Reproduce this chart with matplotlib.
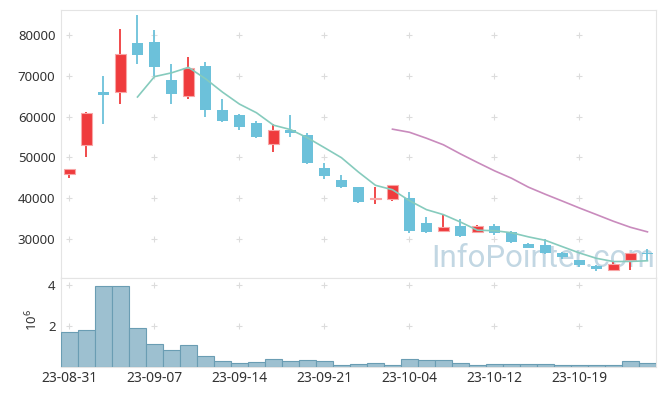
import numpy as np
import pandas as pd
import matplotlib
matplotlib.use('Agg')
import matplotlib.pyplot as plt

plt.rcParams['font.family'] = ['Noto Sans', 'DejaVu Sans']
plt.rcParams['mathtext.fontset'] = 'custom'
plt.rcParams['mathtext.rm'] = 'Noto Sans'

# ============================================================
# 데이터
# ============================================================
dates = ['23-08-31', '23-09-01', '23-09-04', '23-09-05', '23-09-06', '23-09-07',
         '23-09-08', '23-09-11', '23-09-12', '23-09-13', '23-09-14', '23-09-15',
         '23-09-18', '23-09-19', '23-09-20', '23-09-21', '23-09-22', '23-09-25',
         '23-09-26', '23-09-27', '23-10-04', '23-10-05', '23-10-06', '23-10-10',
         '23-10-11', '23-10-12', '23-10-13', '23-10-16', '23-10-17', '23-10-18',
         '23-10-19', '23-10-20', '23-10-23', '23-10-24', '23-10-25']
opens = [45900, 53100, 66000, 66000, 78000, 78300, 69000, 65100, 72400, 61600,
         60400, 58400, 53400, 56700, 55500, 47400, 44500, 42700, 39750, 39800,
         40050, 33900, 32050, 33250, 31800, 33200, 31650, 28850, 28500, 26650,
         24850, 23300, 22400, 24950, 26500]
highs = [47200, 61200, 69900, 81400, 84900, 81200, 72800, 74700, 73300, 64200,
         60600, 58800, 58100, 60400, 55900, 48600, 45600, 42800, 42800, 43300,
         41450, 35300, 35900, 34900, 33500, 33750, 31900, 28900, 29900, 26900,
         24900, 23700, 24500, 26650, 27500]
lows = [44900, 50000, 58100, 63000, 72800, 70000, 63200, 64200, 60000, 58600,
        56700, 54800, 51400, 54900, 48300, 44600, 42600, 38800, 38600, 39250,
        31500, 31400, 32000, 30500, 31550, 30900, 28950, 27800, 26250, 25000,
        23200, 22150, 22400, 22500, 24600]
closes = [47200, 61000, 65200, 75400, 75200, 72200, 65600, 71900, 61500, 58800,
          57500, 55000, 56700, 56100, 48700, 45400, 42700, 39100, 39900, 43250,
          32000, 31700, 33000, 30800, 33250, 31400, 29250, 27900, 26500, 25500,
          23700, 22700, 23950, 26650, 26300]
# 거래량 (백만 주)
volumes = [1.73, 1.82, 3.95, 3.95, 1.92, 1.14, 0.85, 1.09, 0.56, 0.28,
           0.21, 0.26, 0.38, 0.28, 0.33, 0.28, 0.12, 0.17, 0.21, 0.12,
           0.41, 0.33, 0.33, 0.21, 0.12, 0.17, 0.17, 0.17, 0.17, 0.12,
           0.12, 0.12, 0.12, 0.28, 0.21]

df = pd.DataFrame({'date': dates, 'open': opens, 'high': highs,
                   'low': lows, 'close': closes, 'volume': volumes})
df['ma5'] = df['close'].rolling(5).mean()
df['ma20'] = df['close'].rolling(20).mean()
x = np.arange(len(df))

UP = '#ef3b3d'
DOWN = '#6cc1da'
GRID = '#dcdcdc'
SPINE = '#e4e4e4'

# ============================================================
# 레이아웃
# ============================================================
fig = plt.figure(figsize=(6.65, 3.96), dpi=100)
ax = fig.add_axes([0.0917, 0.298, 0.8947, 0.6768])
ax2 = fig.add_axes([0.0917, 0.0732, 0.8947, 0.2248], sharex=ax)

# ============================================================
# 캔들
# ============================================================
up = df['close'] >= df['open']
for i, row in df.iterrows():
    c = UP if up[i] else DOWN
    ax.vlines(i, row['low'], row['high'], color=c, lw=1.3, zorder=3)
    lo, hi = sorted([row['open'], row['close']])
    h = max(hi - lo, 250)
    if up[i]:
        ax.bar(i, h, bottom=lo, width=0.7, color=UP, edgecolor='#f8a6a6',
               lw=0.8, zorder=4)
    else:
        ax.bar(i, h, bottom=lo, width=0.7, color=DOWN, lw=0, zorder=4)

ax.plot(x, df['ma5'], color='#86cbbd', lw=1.2, zorder=5)
ax.plot(x, df['ma20'], color='#c98bbd', lw=1.2, zorder=5)

ax.text(0.998, 0.041, 'InfoPointer.com', transform=ax.transAxes,
        ha='right', va='baseline', fontsize=22.5, color='#c2d7e3', zorder=1,
        family='Roboto')

ax.set_xlim(-0.5, len(df) - 0.5)
ax.set_ylim(20440, 86130)
yt = [30000, 40000, 50000, 60000, 70000, 80000]
ax.set_yticks(yt)
ax.set_yticklabels([str(v) for v in yt])

# ============================================================
# 거래량
# ============================================================
ax2.bar(x, df['volume'], width=1.0, color='#9dc0d0', edgecolor='#6a9db3',
        lw=0.8, zorder=3)
ax2.set_ylim(0, 4.36)
ax2.set_yticks([2, 4])
ax2.set_yticklabels(['2', '4'])
ax2.text(-0.049, 0.53, r'$10^{6}$', transform=ax2.transAxes, rotation=90,
         ha='center', va='center', fontsize=9.5, color='#333333')

xt = list(range(0, len(df), 5))
ax2.set_xticks(xt)
ax2.set_xticklabels([dates[i] for i in xt])

# 격자: 눈금 교차점의 '+' 표시
for a, ticks in [(ax, yt), (ax2, [2, 4])]:
    gx, gy = np.meshgrid(xt, ticks)
    a.plot(gx.ravel(), gy.ravel(), '+', color=GRID, ms=5, mew=0.8, zorder=0)
    for s in a.spines.values():
        s.set_color(SPINE)
    a.tick_params(length=0, colors='#333333')

ax.tick_params(axis='y', labelsize=9.5, pad=4)
ax.tick_params(axis='x', labelbottom=False)
ax2.tick_params(axis='y', labelsize=9.5, pad=4)
ax2.tick_params(axis='x', labelsize=10, pad=3)

fig.savefig('out.png', dpi=100)
